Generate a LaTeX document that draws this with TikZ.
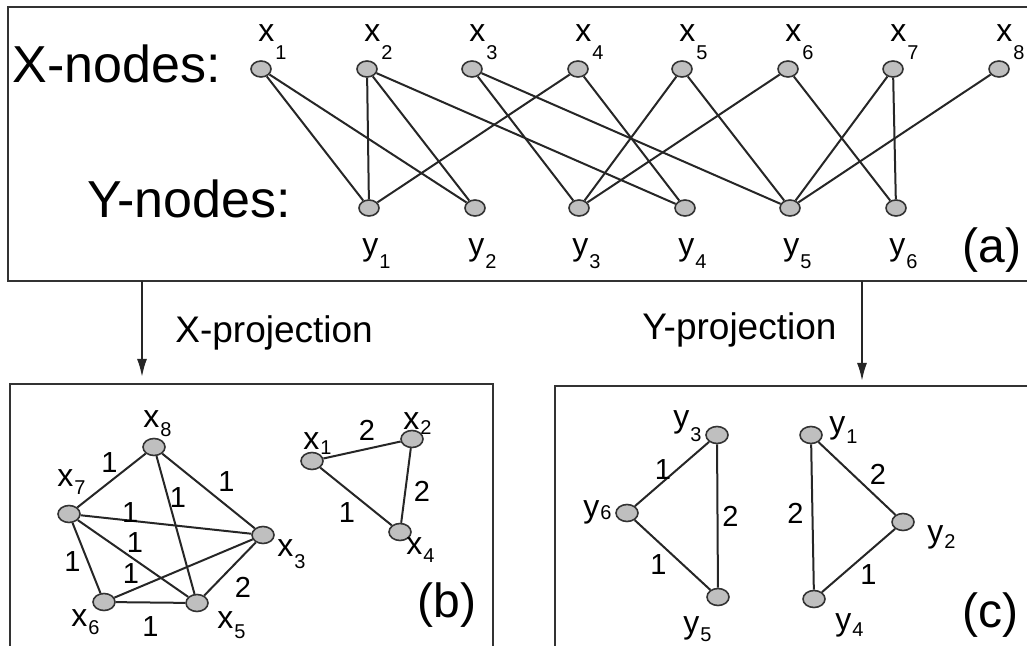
\documentclass[tikz,border=0pt]{standalone}
\usepackage{fontspec}
\setmainfont{Liberation Sans}
\usetikzlibrary{arrows.meta,positioning,shapes.geometric,calc}
\newcommand{\nlab}[3][6pt]{\fontsize{16}{19}\selectfont #2\kern0.5pt\raisebox{-#1}{\fontsize{10}{12}\selectfont #3}}

\begin{document}
\begin{tikzpicture}[x=0.5pt, y=-0.5pt, >=Latex,
    vert/.style={ellipse, draw=black!80, line width=0.8pt, fill=gray!50, minimum width=10pt, minimum height=8pt, inner sep=0pt},
    link/.style={line width=1pt, draw=black!85},
    lab/.style={inner sep=0pt, anchor=base west},
    head/.style={inner sep=0pt, anchor=base west, font=\fontsize{26}{30}\selectfont},
    tag/.style={inner sep=0pt, anchor=base west, font=\fontsize{24}{28}\selectfont},
    caption/.style={inner sep=0pt, anchor=base west, font=\fontsize{18.5}{22}\selectfont},
    wt/.style={inner sep=0pt, font=\fontsize{14.5}{17}\selectfont},
    panel/.style={rectangle, draw=black!80, line width=1pt, inner sep=0pt},
    proj/.style={line width=1pt, draw=black!85, -{Latex[length=9pt,width=5pt]}}]
    \useasboundingbox (0,0) rectangle (1027,646);
    \clip (0,0) rectangle (1027,646);

    \node [panel, minimum width=516pt, minimum height=137pt] (boxa) at (524,144) {};
    \node [panel, minimum width=241.5pt, minimum height=158pt] (boxb) at (251.5,542) {};
    \node [panel, minimum width=252.5pt, minimum height=157pt] (boxc) at (807.5,543) {};

    \node [head] (xhead) at (12,83) {X-nodes:};
    \node [head] (yhead) at (87,218) {Y-nodes:};
    \node [tag] (taga) at (962,263) {(a)};
    \node [tag] (tagb) at (417,617) {(b)};
    \node [tag] (tagc) at (962,627) {(c)};

    \foreach \i/\x in {1/261,2/367,3/472,4/578,5/682,6/788,7/893,8/999} {
        \node [vert] (x\i) at (\x,69) {};
        \node [lab] (lx\i) at (\x-3,42) {\nlab[9pt]{x}{\i}};
    }
    \foreach \i/\x in {1/369,2/475,3/579,4/685,5/790,6/896} {
        \node [vert] (y\i) at (\x,208) {};
        \node [lab] (ly\i) at (\x-7,256) {\nlab[6.5pt]{y}{\i}};
    }
    \foreach \a/\b in {1/1,1/2,2/1,2/2,2/4,3/3,3/5,4/1,4/4,5/3,5/5,6/3,6/6,7/5,7/6,8/5}
        \draw [link] (x\a) -- (y\b);

    \coordinate (ax) at (142,281);
    \coordinate (ay) at (862,281);
    \draw [proj, shorten >=3pt] (ax) -- (ax |- boxb.north);
    \draw [proj, shorten >=2pt] (ay) -- (ay |- boxc.north);
    \node [caption] (xproj) at (175,343) {X-projection};
    \node [caption] (yproj) at (642,340) {Y-projection};

    \foreach \i/\x/\y in {1/312/461,2/412/439,3/263/535,4/400/532,5/197/603,6/104/602,7/69/514,8/154/447}
        \node [vert, minimum width=11pt, minimum height=8.5pt] (px\i) at (\x,\y) {};
    \foreach \i/\x/\y/\d in {1/303/449/2.5pt,2/403/429/2.5pt,3/277/556/6pt,4/406/554/4pt,5/217/628/5pt,6/71/626/4pt,7/57/486/4pt,8/143/427/5pt}
        \node [lab] (lpx\i) at (\x,\y) {\nlab[\d]{x}{\i}};

    \draw [link] (px7) -- node [wt, xshift=-1pt, yshift=9pt] {1} (px8);
    \draw [link] (px8) -- node [wt, xshift=9pt, yshift=4.5pt] {1} (px3);
    \draw [link] (px8) -- node [wt, pos=.3, xshift=5pt] {1} (px5);
    \draw [link] (px7) -- node [wt, pos=.29, yshift=4pt] {1} (px3);
    \draw [link] (px7) -- node [wt, xshift=1pt, yshift=7.75pt] {1} (px5);
    \draw [link] (px7) -- node [wt, xshift=-7pt, yshift=-2pt] {1} (px6);
    \draw [link] (px6) -- node [wt, pos=.12, yshift=8.5pt] {1} (px3);
    \draw [link] (px5) -- node [wt, xshift=6.5pt, yshift=-9pt] {2} (px3);
    \draw [link] (px6) -- node [wt, yshift=-12pt] {1} (px5);
    \draw [link] (px1) -- node [wt, xshift=2.5pt, yshift=10pt] {2} (px2);
    \draw [link] (px2) -- node [wt, xshift=8pt, yshift=-3pt] {2} (px4);
    \draw [link] (px1) -- node [wt, xshift=-4.5pt, yshift=-8pt] {1} (px4);

    \foreach \i/\x/\y in {1/811/435,2/903/522,3/717/435,4/814/599,5/718/597,6/627/513}
        \node [vert, minimum width=11pt, minimum height=8.5pt] (py\i) at (\x,\y) {};
    \foreach \i/\x/\y/\d in {1/829/433/5pt,2/927/542/3pt,3/673/427/7pt,4/835/630/3pt,5/683/633/4pt,6/583/517/1pt}
        \node [lab] (lpy\i) at (\x,\y) {\nlab[\d]{y}{\i}};

    \draw [link] (py6) -- node [wt, xshift=-4.5pt, yshift=2pt] {1} (py3);
    \draw [link] (py3) -- node [wt, xshift=6.5pt] {2} (py5);
    \draw [link] (py6) -- node [wt, xshift=-7pt, yshift=-5pt] {1} (py5);
    \draw [link] (py1) -- node [wt, xshift=-8.5pt, yshift=2pt] {2} (py4);
    \draw [link] (py1) -- node [wt, xshift=10.5pt, yshift=2pt] {2} (py2);
    \draw [link] (py4) -- node [wt, xshift=5pt, yshift=-7pt] {1} (py2);
\end{tikzpicture}
\end{document}
